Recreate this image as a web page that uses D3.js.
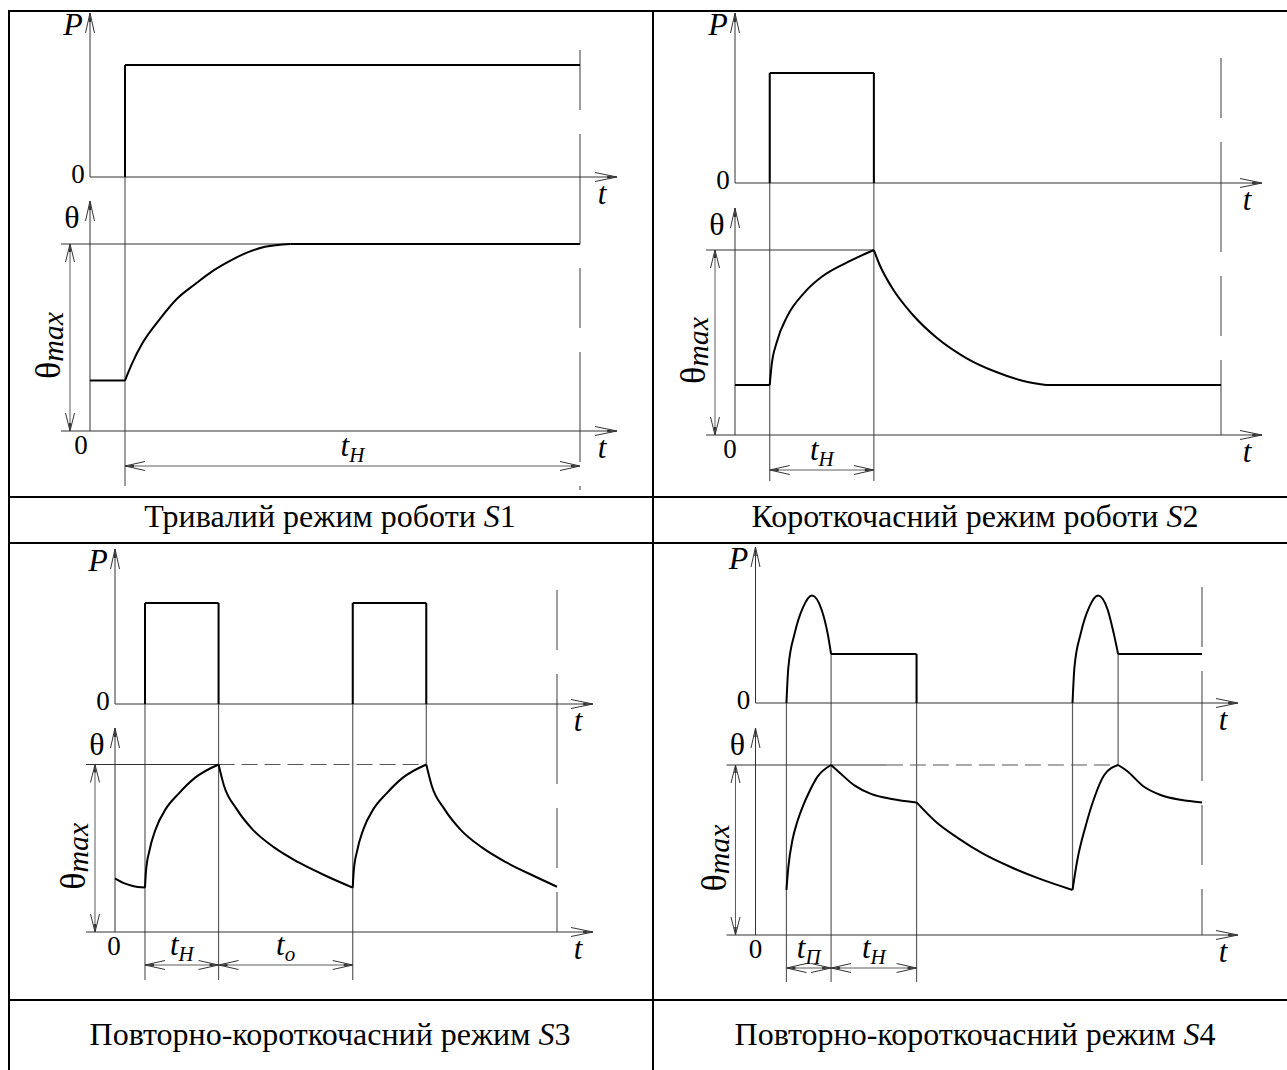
<!DOCTYPE html>
<html>
<head>
<meta charset="utf-8">
<script src="https://cdn.jsdelivr.net/npm/d3@7"></script>
<style>
body { margin: 0; background: #fff; }
svg text { font-family: "Liberation Serif", "DejaVu Serif", serif; fill: #000; }
</style>
</head>
<body>
<svg id="chart" width="1287" height="1070" font-family="Liberation Serif, DejaVu Serif, serif"></svg>
<script>
// S1 - continuous duty (time in relative units, P and theta as share of max)
var s1PowerT = [1, 1, 14];
var s1PowerV = [0, 1, 1];
var s1PowerKinks = [1];
var s1HeatT = [0, 1, 1.2, 1.5, 2.0, 2.5, 3.0, 3.5, 4.0, 4.5, 5.0, 5.73, 14];
var s1HeatV = [0.27, 0.27, 0.36, 0.47, 0.60, 0.71, 0.785, 0.855, 0.91, 0.955, 0.985, 1.0, 1.0];
var s1HeatKinks = [1, 5.73];
var s1SpanT = [1, 14];
var s1SpanSub = ["H"];
var s1CurveGuideT = [];
var s1Ref = [14, 14];   // theta max line: solid until, dashed until

// S2 - short-time duty
var s2PowerT = [1, 1, 4, 4];
var s2PowerV = [0, 1, 1, 0];
var s2PowerKinks = [1, 4];
var s2HeatT = [0, 1, 1.05, 1.2, 1.5, 2.0, 2.5, 3.2, 4.0, 4.15, 4.51, 5.10, 5.82, 6.66, 7.49, 8.31, 8.96, 14];
var s2HeatV = [0.27, 0.27, 0.37, 0.50, 0.64, 0.77, 0.855, 0.93, 1.0, 0.927, 0.80, 0.654, 0.524, 0.416, 0.343, 0.292, 0.27, 0.27];
var s2HeatKinks = [1, 4, 8.96];
var s2SpanT = [1, 4];
var s2SpanSub = ["H"];
var s2CurveGuideT = [];
var s2Ref = [4, 4];

// S3 - intermittent periodic duty
var s3PowerT = [0.95, 0.95, 3.28, 3.28, 7.53, 7.53, 9.86, 9.86];
var s3PowerV = [0, 1, 1, 0, 0, 1, 1, 0];
var s3PowerKinks = [0.95, 3.28, 7.53, 9.86];
var s3HeatT = [0, 0.30, 0.56, 0.95, 0.98, 1.09, 1.28, 1.61, 2.01, 2.53, 3.28, 3.45, 3.85, 4.37, 5.04, 5.82, 6.74, 7.53,
               7.56, 7.67, 7.86, 8.19, 8.59, 9.11, 9.86, 10.03, 10.43, 10.95, 11.62, 12.40, 13.32, 14.0];
var s3HeatV = [0.32, 0.29, 0.275, 0.265, 0.36, 0.485, 0.61, 0.735, 0.825, 0.92, 1.0, 0.875, 0.735, 0.61, 0.505, 0.415, 0.33, 0.265,
               0.36, 0.485, 0.61, 0.735, 0.825, 0.92, 1.0, 0.875, 0.735, 0.61, 0.505, 0.415, 0.33, 0.27];
var s3HeatKinks = [0.95, 3.28, 7.53, 9.86];
var s3SpanT = [0.95, 3.28, 7.53];
var s3SpanSub = ["H", "o"];
var s3CurveGuideT = [9.86];
var s3Ref = [3.28, 9.86];

// S4 - intermittent periodic duty with starting
var s4PowerT = [0.97, 1.03, 1.23, 1.49, 1.77, 2.07, 2.26, 2.37, 5.05, 5.05,
                9.94, 10.0, 10.2, 10.46, 10.74, 11.04, 11.23, 11.37, 14];
var s4PowerV = [0, 0.33, 0.65, 0.89, 1.0, 0.87, 0.65, 0.456, 0.456, 0,
                0, 0.33, 0.65, 0.89, 1.0, 0.87, 0.65, 0.456, 0.456];
var s4PowerKinks = [2.37, 5.05, 9.94, 11.37];
var s4HeatT = [0.97, 1.03, 1.16, 1.30, 1.49, 1.68, 1.94, 2.37, 2.58, 3.10, 3.62, 4.27, 5.05,
               5.69, 6.35, 7.12, 8.0, 8.92, 9.94, 10.09, 10.35, 10.61, 10.93, 11.37, 11.65, 12.16, 12.68, 13.33, 14.0];
var s4HeatV = [0.265, 0.40, 0.56, 0.66, 0.76, 0.84, 0.93, 1.0, 0.965, 0.88, 0.83, 0.80, 0.78,
               0.66, 0.57, 0.48, 0.40, 0.33, 0.265, 0.44, 0.64, 0.80, 0.94, 1.0, 0.965, 0.875, 0.825, 0.795, 0.78];
var s4HeatKinks = [2.37, 5.05, 9.94, 11.37];
var s4SpanT = [0.97, 2.37, 5.05];
var s4SpanSub = ["П", "H"];
var s4CurveGuideT = [9.94, 11.37];
var s4Ref = [4.12, 11.37];

var captionText = ["Тривалий режим роботи ", "Короткочасний режим роботи ",
                   "Повторно-короткочасний режим ", "Повторно-короткочасний режим "];
var captionMode = ["1", "2", "3", "4"];

var panels = [
  {powerT: s1PowerT, powerV: s1PowerV, powerKinks: s1PowerKinks, heatT: s1HeatT, heatV: s1HeatV, heatKinks: s1HeatKinks,
   spanT: s1SpanT, spanSub: s1SpanSub, curveGuideT: s1CurveGuideT, ref: s1Ref},
  {powerT: s2PowerT, powerV: s2PowerV, powerKinks: s2PowerKinks, heatT: s2HeatT, heatV: s2HeatV, heatKinks: s2HeatKinks,
   spanT: s2SpanT, spanSub: s2SpanSub, curveGuideT: s2CurveGuideT, ref: s2Ref},
  {powerT: s3PowerT, powerV: s3PowerV, powerKinks: s3PowerKinks, heatT: s3HeatT, heatV: s3HeatV, heatKinks: s3HeatKinks,
   spanT: s3SpanT, spanSub: s3SpanSub, curveGuideT: s3CurveGuideT, ref: s3Ref},
  {powerT: s4PowerT, powerV: s4PowerV, powerKinks: s4PowerKinks, heatT: s4HeatT, heatV: s4HeatV, heatKinks: s4HeatKinks,
   spanT: s4SpanT, spanSub: s4SpanSub, curveGuideT: s4CurveGuideT, ref: s4Ref}
];

// where each small diagram sits on the page
var layouts = [
  {ox: 90, tEnd: 14, endX: 580, tipX: 617, pTop: 13, p0: 177, p1: 65, thTop: 201, th0: 431, th1: 244,
   guideBottom: 486, dashTop: 50, dashBottom: 490, dimY: 466, zeroDx: -9},
  {ox: 735, tEnd: 14, endX: 1221, tipX: 1262, pTop: 13, p0: 183, p1: 73, thTop: 208, th0: 435, th1: 250,
   guideBottom: 481, dashTop: 58, dashBottom: 435, dimY: 470, zeroDx: -5},
  {ox: 115, tEnd: 14, endX: 557, tipX: 593, pTop: 549, p0: 704, p1: 603, thTop: 728, th0: 932, th1: 764.5,
   guideBottom: 980, dashTop: 590, dashBottom: 932, dimY: 965, zeroDx: -1},
  {ox: 755.5, tEnd: 14, endX: 1202, tipX: 1238, pTop: 547, p0: 703, p1: 595.5, thTop: 728, th0: 935, th1: 765,
   guideBottom: 982, dashTop: 587, dashBottom: 935, dimY: 968, zeroDx: 0}
];

var thinColor = "#333", guideColor = "#5c5c5c";
var serif = "Liberation Serif, DejaVu Serif, serif";
var svg = d3.select("#chart");

// cut a series into pieces at its corners, drop pieces that lie on the zero axis
function splitSeries(ts, vs, kinks) {
  var segs = [], cur = [];
  ts.forEach(function(t, i) {
    cur.push([t, vs[i]]);
    if (i > 0 && i < ts.length - 1 && kinks.indexOf(t) >= 0) {
      segs.push(cur);
      cur = [[t, vs[i]]];
    }
  });
  segs.push(cur);
  return segs.filter(function(s) {
    return s.length > 1 && d3.max(s, function(p) { return p[1]; }) > 0;
  });
}

function valueAt(ts, vs, t) {
  var hits = vs.filter(function(v, i) { return Math.abs(ts[i] - t) < 1e-6; });
  return hits.length ? d3.max(hits) : 0;
}

// thin open arrow head with a small dark core at the tip
function chevron(g, x, y, dx, dy, len, half) {
  var bx = x - dx * len, by = y - dy * len, nx = -dy, ny = dx;
  g.append("path")
    .attr("d", "M" + (bx + nx * half) + "," + (by + ny * half) + "L" + x + "," + y +
               "L" + (bx - nx * half) + "," + (by - ny * half))
    .attr("fill", "none").attr("stroke", thinColor).attr("stroke-width", 1);
  var fx = x - dx * len * 0.45, fy = y - dy * len * 0.45;
  g.append("path")
    .attr("d", "M" + (fx + nx * 1.3) + "," + (fy + ny * 1.3) + "L" + x + "," + y +
               "L" + (fx - nx * 1.3) + "," + (fy - ny * 1.3) + "Z")
    .attr("fill", thinColor);
}

function hline(g, x1, x2, y, color, w) {
  return g.append("line").attr("x1", x1).attr("x2", x2).attr("y1", y).attr("y2", y)
    .attr("stroke", color).attr("stroke-width", w);
}
function vline(g, x, y1, y2, color, w) {
  return g.append("line").attr("x1", x).attr("x2", x).attr("y1", y1).attr("y2", y2)
    .attr("stroke", color).attr("stroke-width", w);
}
function label(g, x, y, size, italic, str) {
  return g.append("text").attr("x", x).attr("y", y).attr("text-anchor", "middle")
    .attr("font-family", serif).attr("font-size", size)
    .attr("font-style", italic ? "italic" : "normal").text(str);
}

function drawPanel(L, d) {
  var g = svg.append("g");
  var x = d3.scaleLinear().domain([0, L.tEnd]).range([L.ox, L.endX]);
  var yP = d3.scaleLinear().domain([0, 1]).range([L.p0, L.p1]);
  var yT = d3.scaleLinear().domain([0, 1]).range([L.th0, L.th1]);
  var lineP = d3.line()
    .x(function(p) { return x(p[0]); })
    .y(function(p) { return yP(p[1]); })
    .curve(d3.curveMonotoneX);
  var lineT = d3.line()
    .x(function(p) { return x(p[0]); })
    .y(function(p) { return yT(p[1]); })
    .curve(d3.curveMonotoneX);
  var left = L.ox - 29;

  // vertical guides
  d.spanT.forEach(function(t) {
    if (t >= L.tEnd) return;
    vline(g, x(t), yP(valueAt(d.powerT, d.powerV, t)), L.guideBottom, guideColor, 1.2);
  });
  d.curveGuideT.forEach(function(t) {
    vline(g, x(t), yP(valueAt(d.powerT, d.powerV, t)), yT(valueAt(d.heatT, d.heatV, t)), guideColor, 1.2);
  });

  // theta max reference line
  hline(g, left, x(d.ref[0]), yT(1), thinColor, 1);
  if (d.ref[1] > d.ref[0]) {
    hline(g, x(d.ref[0]), x(d.ref[1]), yT(1), "#555", 1).attr("stroke-dasharray", "16,7");
  }

  // end of period marker
  vline(g, x(L.tEnd), L.dashTop, L.dashBottom, guideColor, 1.2).attr("stroke-dasharray", "60,24,110,24");

  // axes
  vline(g, L.ox, L.p0, L.pTop, thinColor, 1);
  chevron(g, L.ox, L.pTop, 0, -1, 20, 4.5);
  hline(g, L.ox, L.tipX, L.p0, thinColor, 1);
  chevron(g, L.tipX, L.p0, 1, 0, 22, 4.5);
  vline(g, L.ox, L.th0, L.thTop, thinColor, 1);
  chevron(g, L.ox, L.thTop, 0, -1, 20, 4.5);
  hline(g, left, L.tipX, L.th0, thinColor, 1);
  chevron(g, L.tipX, L.th0, 1, 0, 22, 4.5);

  // theta max dimension
  var ax = L.ox - 20;
  vline(g, ax, yT(1), L.th0, guideColor, 1);
  chevron(g, ax, yT(1), 0, -1, 18, 4.5);
  chevron(g, ax, L.th0, 0, 1, 18, 4.5);

  // time spans
  for (var i = 0; i < d.spanT.length - 1; i++) {
    var xa = x(d.spanT[i]), xb = x(d.spanT[i + 1]);
    hline(g, xa, xb, L.dimY, guideColor, 1);
    chevron(g, xa, L.dimY, -1, 0, 20, 4.5);
    chevron(g, xb, L.dimY, 1, 0, 20, 4.5);
    var lab = label(g, (xa + xb) / 2, L.dimY - 10, 31, true, null);
    lab.append("tspan").text("t");
    lab.append("tspan").attr("font-size", 21).attr("dy", 6).text(d.spanSub[i]);
  }

  // curves
  splitSeries(d.powerT, d.powerV, d.powerKinks).forEach(function(seg) {
    g.append("path").datum(seg).attr("d", lineP)
      .attr("fill", "none").attr("stroke", "#000").attr("stroke-width", 2);
  });
  splitSeries(d.heatT, d.heatV, d.heatKinks).forEach(function(seg) {
    g.append("path").datum(seg).attr("d", lineT)
      .attr("fill", "none").attr("stroke", "#000").attr("stroke-width", 2);
  });

  // axis labels
  label(g, L.ox - 17, L.pTop + 22, 32, true, "P");
  label(g, L.ox - 12, L.p0 + 6, 27, false, "0");
  label(g, L.tipX - 15, L.p0 + 27, 31, true, "t");
  label(g, L.ox - 18, L.thTop + 27, 32, false, "θ");
  label(g, L.ox + L.zeroDx, L.th0 + 23, 27, false, "0");
  label(g, L.tipX - 15, L.th0 + 27, 31, true, "t");

  var tm = label(g, 0, 0, 36, false, null)
    .attr("transform", "translate(" + (L.ox - 30) + "," + ((yT(1) + L.th0) / 2 + 8) + ") rotate(-90)");
  tm.append("tspan").text("θ");
  tm.append("tspan").attr("font-size", 30).attr("font-style", "italic").attr("dy", 3).text("max");
}

// table grid
var grid = svg.append("g");
hline(grid, 8, 1287, 11, "#000", 2);
hline(grid, 8, 1287, 497, "#000", 2);
hline(grid, 8, 1287, 543, "#000", 2);
hline(grid, 8, 1287, 1000, "#000", 2);
vline(grid, 9, 10, 1070, "#000", 2);
vline(grid, 653, 10, 1070, "#000", 2);

panels.forEach(function(d, k) { drawPanel(layouts[k], d); });

// captions
captionText.forEach(function(c, k) {
  var t = label(svg, k % 2 ? 975 : 330, k < 2 ? 527 : 1045, 32, false, null);
  t.append("tspan").text(c);
  t.append("tspan").attr("font-style", "italic").text("S");
  t.append("tspan").text(captionMode[k]);
});
</script>
</body>
</html>
